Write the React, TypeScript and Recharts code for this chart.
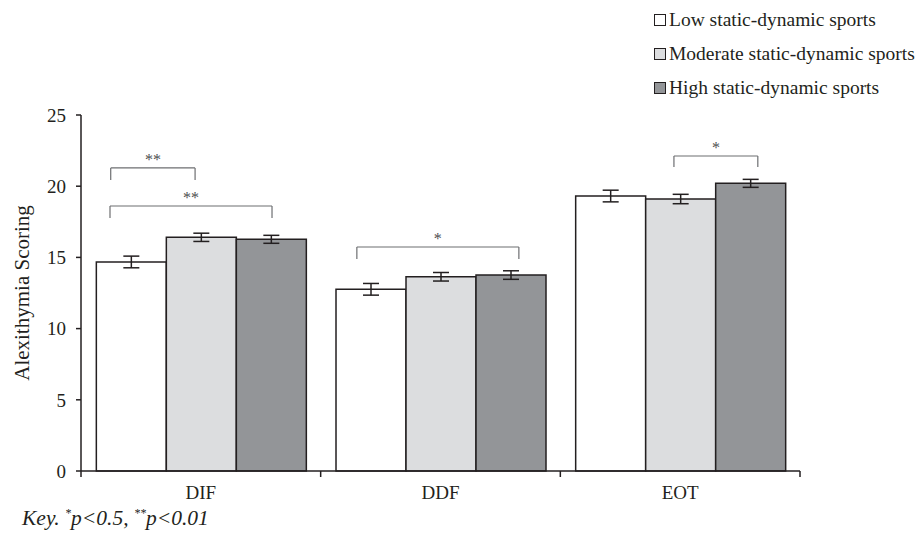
import { Bar, BarChart, ErrorBar, ReferenceLine, XAxis, YAxis } from "recharts";

const categories = ["DIF", "DDF", "EOT"];
const seriesNames = ["Low static-dynamic sports", "Moderate static-dynamic sports", "High static-dynamic sports"];
const lowMeans = [14.68, 12.76, 19.31];
const lowErrors = [0.41, 0.41, 0.41];
const moderateMeans = [16.41, 13.64, 19.1];
const moderateErrors = [0.29, 0.3, 0.33];
const highMeans = [16.27, 13.76, 20.2];
const highErrors = [0.28, 0.3, 0.28];
const yTicks = [0, 5, 10, 15, 20, 25];
const xTicks = [0, 0.5, 1, 1.5, 2, 2.5, 3];

// significance brackets, x in category units (0..3)
const bracketStarts = [0.124, 0.121, 1.151, 2.474];
const bracketEnds = [0.476, 0.797, 1.827, 2.824];
const bracketTops = [21.28, 18.61, 15.73, 22.12];
const bracketFeet = [20.44, 17.77, 14.89, 21.35];
const bracketLabels = ["**", "**", "*", "*"];

const colors = ["#ffffff", "#dcdddf", "#939598"];
const ink = "#231f20";
const bracketInk = "#6d6e71";
const font = "'Liberation Serif', 'DejaVu Serif', serif";

const data = categories.map((category, i) => ({
  category,
  pos: i + 0.5,
  low: lowMeans[i],
  lowErr: lowErrors[i],
  moderate: moderateMeans[i],
  moderateErr: moderateErrors[i],
  high: highMeans[i],
  highErr: highErrors[i],
}));

const seriesKeys = ["low", "moderate", "high"];

// boundary ticks at integers, category names at half steps
function AxisTick({ x, y, payload }: any) {
  const v = payload.value as number;
  if (Number.isInteger(v)) {
    return <line x1={x} x2={x} y1={y} y2={y + 6} stroke={ink} strokeWidth={1.5} />;
  }
  return (
    <text x={x} y={y + 28} textAnchor="middle" fill={ink} fontSize={19} fontFamily={font}>
      {categories[Math.floor(v)]}
    </text>
  );
}

function YLabel({ viewBox }: any) {
  const cx = 22;
  const cy = viewBox.y + viewBox.height / 2;
  return (
    <text
      x={cx}
      y={cy}
      transform={`rotate(-90 ${cx} ${cy})`}
      textAnchor="middle"
      dominantBaseline="central"
      fill={ink}
      fontSize={21}
      fontFamily={font}
    >
      Alexithymia Scoring
    </text>
  );
}

export default function App() {
  return (
    <div style={{ position: "absolute", left: 0, top: 0, width: 920, height: 536, background: "#fff", fontFamily: font }}>
      <BarChart
        width={920}
        height={536}
        data={data}
        margin={{ top: 115, right: 120, bottom: 35, left: 0 }}
        barCategoryGap="6.4%"
        barGap={0}
      >
        <XAxis xAxisId="cat" dataKey="category" hide height={0} />
        <XAxis
          xAxisId="num"
          dataKey="pos"
          type="number"
          domain={[0, 3]}
          ticks={xTicks}
          interval={0}
          tick={<AxisTick />}
          tickLine={false}
          tickSize={0}
          tickMargin={0}
          height={30}
          axisLine={{ stroke: ink, strokeWidth: 1.5 }}
          allowDataOverflow
        />
        <YAxis
          domain={[0, 25]}
          ticks={yTicks}
          width={81}
          tickSize={5}
          tickMargin={10}
          axisLine={{ stroke: ink, strokeWidth: 1.5 }}
          tickLine={{ stroke: ink, strokeWidth: 1.5 }}
          tick={{ fill: ink, fontSize: 19, fontFamily: font }}
          label={<YLabel />}
        />
        {seriesKeys.map((key, i) => (
          <Bar
            key={key}
            xAxisId="cat"
            dataKey={key}
            name={seriesNames[i]}
            fill={colors[i]}
            stroke={ink}
            strokeWidth={1.5}
            isAnimationActive={false}
          >
            <ErrorBar dataKey={`${key}Err`} width={8} stroke={ink} strokeWidth={1.5} direction="y" />
          </Bar>
        ))}
        {bracketLabels.map((label, i) => [
          <ReferenceLine
            key={`h${i}`}
            xAxisId="num"
            segment={[
              { x: bracketStarts[i], y: bracketTops[i] },
              { x: bracketEnds[i], y: bracketTops[i] },
            ]}
            stroke={bracketInk}
            strokeWidth={1.2}
            label={{ value: label, position: "top", fill: "#4d4d4f", fontSize: 16, fontFamily: font, offset: 3 }}
          />,
          <ReferenceLine
            key={`l${i}`}
            xAxisId="num"
            segment={[
              { x: bracketStarts[i], y: bracketTops[i] },
              { x: bracketStarts[i], y: bracketFeet[i] },
            ]}
            stroke={bracketInk}
            strokeWidth={1.2}
          />,
          <ReferenceLine
            key={`r${i}`}
            xAxisId="num"
            segment={[
              { x: bracketEnds[i], y: bracketTops[i] },
              { x: bracketEnds[i], y: bracketFeet[i] },
            ]}
            stroke={bracketInk}
            strokeWidth={1.2}
          />,
        ])}
      </BarChart>

      <div style={{ position: "absolute", left: 654, top: 3 }}>
        {seriesNames.map((name, i) => (
          <div key={name} style={{ display: "flex", alignItems: "center", height: 34, fontSize: 19.5, color: ink, whiteSpace: "nowrap" }}>
            <span
              style={{
                display: "inline-block",
                width: 10,
                height: 10,
                marginRight: 3,
                background: colors[i],
                border: `1px solid ${ink}`,
              }}
            />
            {name}
          </div>
        ))}
      </div>

      <div style={{ position: "absolute", left: 22, top: 506, fontSize: 21.5, fontStyle: "italic", color: ink, whiteSpace: "nowrap" }}>
        Key. <sup style={{ fontSize: 12 }}>*</sup>p&lt;0.5, <sup style={{ fontSize: 12 }}>**</sup>p&lt;0.01
      </div>
    </div>
  );
}
